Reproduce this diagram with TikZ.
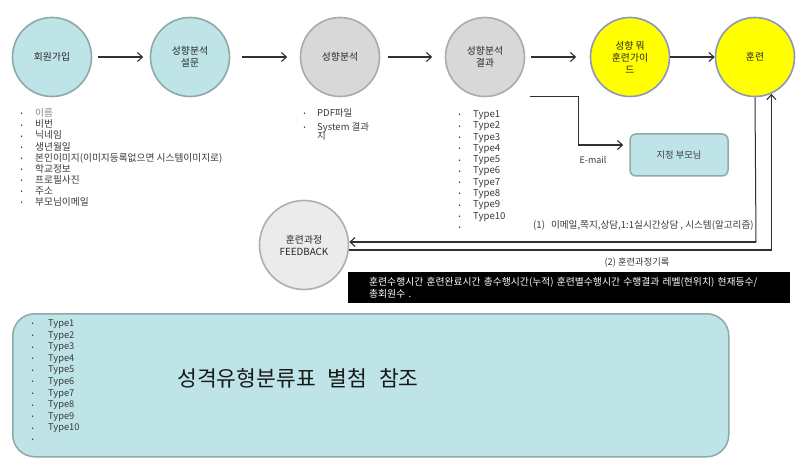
\documentclass[tikz,border=0pt]{standalone}
\usepackage{fontspec}
\setmainfont{Noto Sans CJK KR}
\usetikzlibrary{arrows.meta}
\definecolor{lblue}{HTML}{BEE4E8}
\definecolor{lblueb}{HTML}{8EA9A6}
\definecolor{gfill}{HTML}{D8D8D8}
\definecolor{gbord}{HTML}{A3AFAC}
\definecolor{yfill}{HTML}{FFFF00}
\definecolor{ybord}{HTML}{8E96BE}
\definecolor{ffill}{HTML}{EBEBEB}
\definecolor{fbord}{HTML}{A4B4AC}
\definecolor{txt}{HTML}{3A3A3A}
\definecolor{lin}{HTML}{303030}
\newcommand{\bul}[1]{\makebox[#1][l]{\fontsize{6}{6}\selectfont\raisebox{0.6pt}{•}}}
\begin{document}
\begin{tikzpicture}[x=1pt,y=-1pt,
  circ/.style={circle, draw, line width=1.6pt, minimum size=79pt, inner sep=0pt, align=center,
    font=\fontsize{9.8}{12}\selectfont, text=black!85},
  bluec/.style={fill=lblue, draw=lblueb},
  grayc/.style={fill=gfill, draw=gbord},
  yelc/.style={fill=yfill, draw=ybord},
  fbc/.style={fill=ffill, draw=fbord},
  arr/.style={draw=lin, line width=1.1pt, -{Straight Barb[length=5pt,width=9pt]}},
  conn/.style={draw=lin, line width=1.0pt},
  listn/.style={anchor=base west, inner sep=0pt, text=txt},
  lbl/.style={inner sep=0pt, text=txt, font=\fontsize{9}{10}\selectfont}]
\useasboundingbox[fill=white] (0,0) rectangle (801,468);

% main circles
\node[circ, bluec] (join) at (52,57) {회원가입};
\node[circ, bluec] (survey) at (190,57) {성향분석\\설문};
\node[circ, grayc] (anal) at (340,57) {성향분석};
\node[circ, grayc] (res) at (485,57) {성향분석\\결과};
\node[circ, yelc] (guide) at (630,57) {성향 뭐\\훈련가이\\드};
\node[circ, yelc] (train) at (755,57) {훈련};
\node[circ, fbc, minimum size=89pt] (fb) at (304,245) {훈련과정\\FEEDBACK};

% top arrows
\draw[arr, shorten <=5.5pt, shorten >=6.5pt] (join) -- (survey);
\draw[arr, shorten <=11.5pt, shorten >=12.5pt] (survey) -- (anal);
\draw[arr, shorten <=7.5pt, shorten >=12.5pt] (anal) -- (res);
\draw[arr, shorten <=5.5pt, shorten >=13.5pt] (res) -- (guide);
\draw[arr] (guide) -- (train);

% lists
\node[listn, font=\fontsize{9.7}{10.5}\selectfont] (list1) at (20.5,116.5) {%
\begin{tabular}[t]{@{}l@{}}
\bul{14.5pt}{\color{black!45}이름}\\
\bul{14.5pt}비번\\
\bul{14.5pt}닉네임\\
\bul{14.5pt}생년월일\\
\bul{14.5pt}본인이미지(이미지등록없으면 시스템이미지로)\\
\bul{14.5pt}학교정보\\
\bul{14.5pt}프로필사진\\
\bul{14.5pt}주소\\
\bul{14.5pt}부모님이메일
\end{tabular}};

\node[listn, font=\fontsize{9.5}{10.5}\selectfont] (list2) at (303.5,116.5) {%
\begin{tabular}[t]{@{}l@{}}
\bul{13.5pt}PDF파일\\[2.5pt]
\bul{13.5pt}System 결과\\[-1.5pt]
\hspace*{13.5pt}지
\end{tabular}};

\node[listn, font=\fontsize{9.6}{11.3}\selectfont] (list3) at (458.5,117.5) {%
\begin{tabular}[t]{@{}l@{}}
\bul{14.5pt}Type1\\
\bul{14.5pt}Type2\\
\bul{14.5pt}Type3\\
\bul{14.5pt}Type4\\
\bul{14.5pt}Type5\\
\bul{14.5pt}Type6\\
\bul{14.5pt}Type7\\
\bul{14.5pt}Type8\\
\bul{14.5pt}Type9\\
\bul{14.5pt}Type10\\
\bul{14.5pt}
\end{tabular}};

% parents box
\node[draw=lblueb, fill=lblue, line width=1.5pt, rounded corners=6pt, minimum width=98pt,
  minimum height=42pt, font=\fontsize{9.3}{10}\selectfont, text=txt] (par) at (679,155) {지정 부모님};
\coordinate (e1) at (530,97);
\coordinate (e2) at (578,145);
\draw[conn] (e1) -| (e2);
\draw[arr, shorten >=6pt] (e2) -- (e2 -| par.west);
\node[lbl] (email) at (593,160) {E-mail};

% feedback loop
\coordinate (t1) at (756,242);
\draw[conn] (train.south) -- (t1);
\draw[arr] (t1) -- (t1 -| fb.east);
\coordinate (f2) at (349,250);
\draw[arr] (f2) -| (train.-66);
\node[lbl, anchor=west, font=\fontsize{9.6}{10}\selectfont] (lab1) at (533,225) {(1)\hspace{6pt}이메일,쪽지,상담,1:1실시간상담 , 시스템(알고리즘)};
\node[lbl, font=\fontsize{9.3}{10}\selectfont] (lab2) at (637,263) {(2) 훈련과정기록};

% black record box
\node[fill=black, text=white, anchor=north west, minimum width=437pt, minimum height=31pt,
  inner xsep=21pt, inner ysep=3pt, text width=400pt, align=left,
  font=\fontsize{9.8}{11.5}\selectfont] (rec) at (348,272)
  {훈련수행시간 훈련완료시간 총수행시간(누적) 훈련별수행시간 수행결과 레벨(현위치) 현재등수/\\총회원수 .};

% big bottom box
\node[draw=lblueb, fill=lblue, line width=1.5pt, rounded corners=22pt, minimum width=716pt,
  minimum height=143pt, anchor=north west] (types) at (12,313) {};
\node[listn, font=\fontsize{9.3}{11.6}\selectfont] (list4) at (31.5,326.5) {%
\begin{tabular}[t]{@{}l@{}}
\bul{16.5pt}Type1\\
\bul{16.5pt}Type2\\
\bul{16.5pt}Type3\\
\bul{16.5pt}Type4\\
\bul{16.5pt}Type5\\
\bul{16.5pt}Type6\\
\bul{16.5pt}Type7\\
\bul{16.5pt}Type8\\
\bul{16.5pt}Type9\\
\bul{16.5pt}Type10\\
\bul{16.5pt}
\end{tabular}};
\node[inner sep=0pt, text=black!90, font=\fontsize{21.5}{24}\selectfont] (ref) at (298,378)
  {성격유형분류표\hspace{0.55em}별첨\hspace{0.55em}참조};
\end{tikzpicture}
\end{document}
